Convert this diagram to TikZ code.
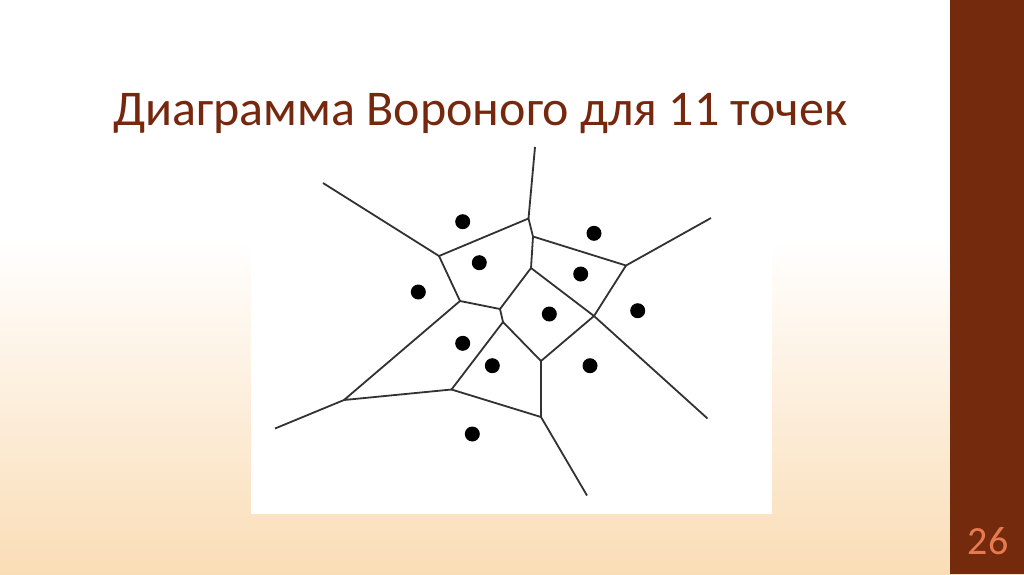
\documentclass[tikz,border=0pt]{standalone}
\usepackage{fontspec}
\setmainfont{Carlito}
\definecolor{slidebrown}{RGB}{116,42,12}
\definecolor{titlebrown}{RGB}{118,40,14}
\definecolor{pagenum}{RGB}{232,122,82}
\definecolor{peach}{RGB}{250,221,182}
\definecolor{edgegray}{RGB}{50,50,50}
\begin{document}
\begin{tikzpicture}[x=1pt,y=-1pt]
\useasboundingbox (0,0) rectangle (1024,574);
\fill[white] (0,0) rectangle (1024,240);
\shade[top color=white,bottom color=peach] (0,240) rectangle (1024,574);
\fill[slidebrown] (950,0) rectangle (1024,574);
\node[anchor=base west,inner sep=0pt,text=titlebrown,font=\fontsize{50}{54}\selectfont] (title) at (113,125) {Диаграмма Вороного для 11 точек};
\node[anchor=base,inner sep=0pt,text=pagenum,font=\fontsize{40}{44}\selectfont] (page) at (988,554) {26};
\fill[white] (251,140) rectangle (772,514);
% vertices
\coordinate (A) at (439,256);
\coordinate (B) at (528.5,218.5);
\coordinate (C) at (460,301);
\coordinate (D) at (500,309);
\coordinate (E) at (533,236.5);
\coordinate (F) at (626,265.5);
\coordinate (G) at (531,268);
\coordinate (H) at (594,316);
\coordinate (I) at (344,400);
\coordinate (J) at (451.5,389.5);
\coordinate (K) at (541,361);
\coordinate (L) at (541,417);
\coordinate (M) at (503,322);
% ends of rays
\coordinate (rA) at (323,183);
\coordinate (rB) at (535,147);
\coordinate (rF) at (711,218);
\coordinate (rH) at (707.5,418.5);
\coordinate (rI) at (275,428.5);
\coordinate (rL) at (587,495.5);
\draw[edgegray,line width=1.8pt,line join=round] (rA) -- (A) -- (B) -- (rB);
\draw[edgegray,line width=1.8pt,line join=round] (A) -- (C) -- (D) -- (M) -- (J) -- (I) -- (C);
\draw[edgegray,line width=1.8pt,line join=round] (B) -- (E) -- (F) -- (rF);
\draw[edgegray,line width=1.8pt,line join=round] (E) -- (G) -- (D);
\draw[edgegray,line width=1.8pt,line join=round] (G) -- (H) -- (F);
\draw[edgegray,line width=1.8pt,line join=round] (M) -- (K) -- (H) -- (rH);
\draw[edgegray,line width=1.8pt,line join=round] (K) -- (L) -- (J);
\draw[edgegray,line width=1.8pt] (I) -- (rI);
\draw[edgegray,line width=1.8pt] (L) -- (rL);
% sites
\foreach \x/\y in {462.7/221.7, 479.3/262.7, 418.3/292, 594/233.3, 580.7/274, 549.3/314, 637.7/310.7, 462.7/343.3, 492.3/365.7, 590/365.7, 472.3/434}
  \fill[black] (\x,\y) circle[radius=7.5pt];
\end{tikzpicture}
\end{document}
